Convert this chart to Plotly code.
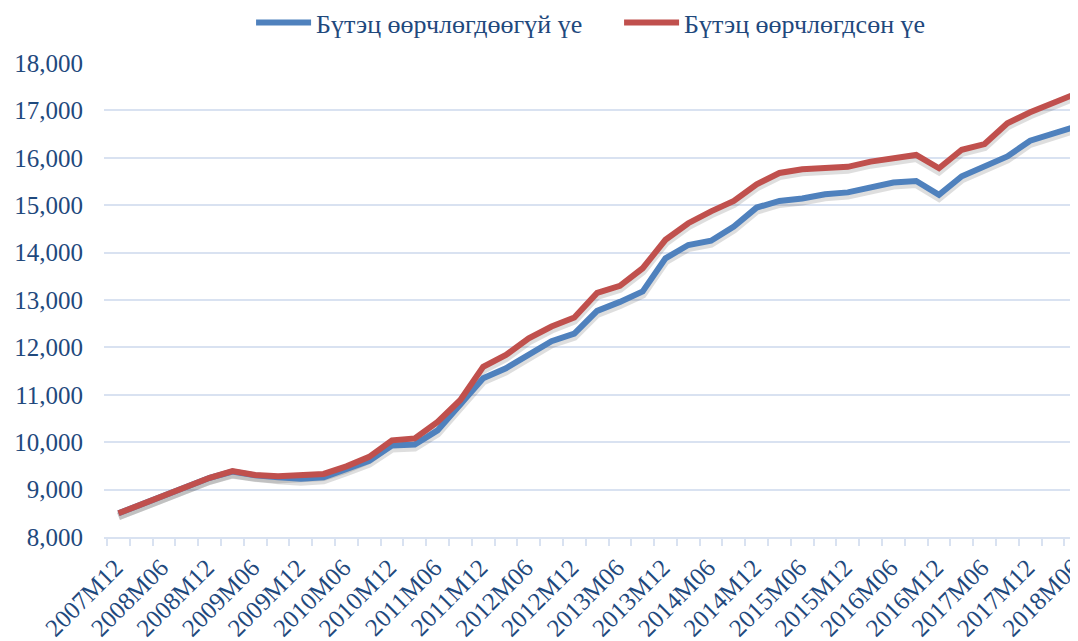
import plotly.graph_objects as go

# Quarterly periods 2007M12 .. 2018M06
periods = []
for yr in range(2007, 2019):
    for m in ["03", "06", "09", "12"]:
        p = f"{yr}M{m}"
        if "2007M12" <= p <= "2018M06":
            periods.append(p)

unchanged = [8500, 8690, 8880, 9060, 9250, 9380, 9300, 9260, 9230, 9260,
             9430, 9610, 9930, 9950, 10250, 10780, 11350, 11560, 11840, 12130,
             12290, 12770, 12960, 13180, 13880, 14160, 14250, 14550, 14950, 15090,
             15140, 15230, 15270, 15360, 15480, 15510, 15220, 15610, 15820, 16030,
             16360, 16500, 16660]

changed = [8500, 8690, 8880, 9060, 9250, 9390, 9310, 9280, 9290, 9330,
           9490, 9690, 10040, 10080, 10430, 10890, 11590, 11840, 12190, 12440,
           12630, 13150, 13300, 13670, 14270, 14620, 14870, 15090, 15440, 15680,
           15760, 15800, 15810, 15920, 16000, 16060, 15780, 16170, 16290, 16730,
           16960, 17160, 17350]

series_names = ["Бүтэц өөрчлөгдөөгүй үе", "Бүтэц өөрчлөгдсөн үе"]
series_colors = ["#4F81BD", "#C0504D"]

idx = list(range(len(periods)))
label_idx = idx[::2]
label_text = [periods[i] for i in label_idx]
boundaries = [i - 0.5 for i in idx] + [idx[-1] + 0.5]

TXT = "#1F497D"
GRID = "#D9E2F1"
FONT = "Liberation Serif, Times New Roman, serif"

fig = go.Figure()

# invisible carrier so the main axes (grid + labels) are drawn
fig.add_trace(go.Scatter(x=idx, y=changed, mode="lines", line=dict(width=0),
                         opacity=0, showlegend=False, hoverinfo="skip"))

# soft shadow (drawn on a slightly shifted hidden y-axis)
for vals in [unchanged, changed]:
    fig.add_trace(go.Scatter(x=idx, y=vals, mode="lines", yaxis="y2",
                             line=dict(color="rgba(0,0,0,0.13)", width=8),
                             showlegend=False, hoverinfo="skip"))

for vals, name, col in zip([unchanged, changed], series_names, series_colors):
    fig.add_trace(go.Scatter(x=idx, y=vals, mode="lines", name=name, yaxis="y3",
                             line=dict(color=col, width=6)))

yr = [8000, 18000]
fig.update_layout(
    width=1070, height=633,
    margin=dict(l=96, r=0, t=55, b=104, autoexpand=False),
    paper_bgcolor="white", plot_bgcolor="white",
    font=dict(family=FONT, color=TXT, size=25),
    showlegend=True,
    legend=dict(orientation="h", x=0.151, xanchor="left", y=1.085, yanchor="middle",
                font=dict(family=FONT, size=26, color=TXT), bgcolor="rgba(0,0,0,0)",
                itemwidth=55, entrywidth=298, traceorder="normal"),
    xaxis=dict(range=[-0.636, 42.10], tickmode="array", tickvals=label_idx, ticktext=label_text,
               tickangle=-45, ticks="", showgrid=False, zeroline=False,
               showline=True, linecolor=GRID, linewidth=2,
               tickfont=dict(family=FONT, size=25, color=TXT),
               ticklabelstandoff=4, ticklabelshift=-3, ticklabeloverflow="allow",
               minor=dict(tickmode="array", tickvals=boundaries, ticks="outside",
                          ticklen=7, tickwidth=2, tickcolor=GRID, showgrid=False),
               automargin=False),
    yaxis=dict(range=yr, dtick=1000, tickformat=",d", showgrid=True, gridcolor=GRID,
               gridwidth=2, zeroline=False, ticks="", showline=False,
               tickfont=dict(family=FONT, size=25, color=TXT),
               ticklabelstandoff=20, automargin=False),
    yaxis2=dict(range=[yr[0] + 65, yr[1] + 65], overlaying="y", visible=False),
    yaxis3=dict(range=yr, overlaying="y", visible=False),
)

fig.write_html("out.html")
